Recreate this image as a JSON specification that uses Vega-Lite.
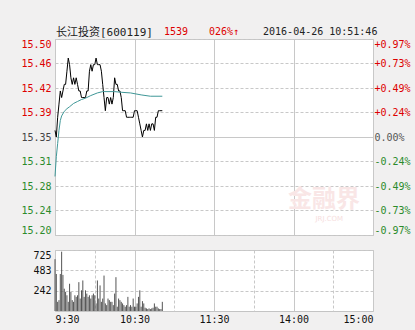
{
  "$schema": "https://vega.github.io/schema/vega-lite/v6.json",
  "background": "#f1f0f0",
  "padding": {"left": 20, "top": 26, "right": 6, "bottom": 6},
  "spacing": 13,
  "config": {
    "view": {"fill": "white", "stroke": "#c4c4c4"},
    "axis": {"labelFont": "DejaVu Sans Mono", "labelFontSize": 10, "ticks": false, "domain": false, "title": null, "gridColor": "#c8c8c8", "gridWidth": 1, "labelOverlap": false, "labelBound": false}
  },
  "datasets": {
    "price": [
      {"m":0,"p":15.36},{"m":1,"p":15.35},{"m":2,"p":15.38},{"m":3,"p":15.40},{"m":4,"p":15.42},{"m":5,"p":15.41},{"m":6,"p":15.42},{"m":7,"p":15.43},{"m":8,"p":15.43},{"m":9,"p":15.45},
      {"m":10,"p":15.47},{"m":11,"p":15.46},{"m":12,"p":15.44},{"m":13,"p":15.43},{"m":14,"p":15.44},{"m":15,"p":15.43},{"m":16,"p":15.44},{"m":17,"p":15.43},{"m":18,"p":15.42},{"m":19,"p":15.42},
      {"m":20,"p":15.41},{"m":21,"p":15.41},{"m":22,"p":15.41},{"m":23,"p":15.41},{"m":24,"p":15.42},{"m":25,"p":15.42},{"m":26,"p":15.45},{"m":27,"p":15.46},{"m":28,"p":15.45},{"m":29,"p":15.46},
      {"m":30,"p":15.46},{"m":31,"p":15.47},{"m":32,"p":15.46},{"m":33,"p":15.46},{"m":34,"p":15.46},{"m":35,"p":15.45},{"m":36,"p":15.43},{"m":37,"p":15.41},{"m":38,"p":15.39},{"m":39,"p":15.41},
      {"m":40,"p":15.41},{"m":41,"p":15.40},{"m":42,"p":15.41},{"m":43,"p":15.40},{"m":44,"p":15.41},{"m":45,"p":15.44},{"m":46,"p":15.43},{"m":47,"p":15.43},{"m":48,"p":15.42},{"m":49,"p":15.42},
      {"m":50,"p":15.41},{"m":51,"p":15.39},{"m":52,"p":15.39},{"m":53,"p":15.39},{"m":54,"p":15.38},{"m":55,"p":15.38},{"m":56,"p":15.38},{"m":57,"p":15.38},{"m":58,"p":15.38},{"m":59,"p":15.38},
      {"m":60,"p":15.39},{"m":61,"p":15.39},{"m":62,"p":15.39},{"m":63,"p":15.38},{"m":64,"p":15.37},{"m":65,"p":15.36},{"m":66,"p":15.35},{"m":67,"p":15.36},{"m":68,"p":15.36},{"m":69,"p":15.37},
      {"m":70,"p":15.36},{"m":71,"p":15.37},{"m":72,"p":15.36},{"m":73,"p":15.37},{"m":74,"p":15.37},{"m":75,"p":15.36},{"m":76,"p":15.38},{"m":77,"p":15.38},{"m":78,"p":15.39},{"m":79,"p":15.39},
      {"m":80,"p":15.39},{"m":81,"p":15.39}
    ],
    "avg": [
      {"m":0,"a":15.29},{"m":1,"a":15.32},{"m":2,"a":15.34},{"m":3,"a":15.36},{"m":4,"a":15.375},{"m":5,"a":15.382},{"m":7,"a":15.389},{"m":9,"a":15.393},{"m":11,"a":15.396},{"m":14,"a":15.401},
      {"m":17,"a":15.404},{"m":20,"a":15.407},{"m":23,"a":15.409},{"m":27,"a":15.413},{"m":32,"a":15.417},{"m":36,"a":15.419},{"m":40,"a":15.419},{"m":45,"a":15.419},{"m":50,"a":15.418},{"m":57,"a":15.417},
      {"m":65,"a":15.414},{"m":72,"a":15.412},{"m":81,"a":15.412}
    ],
    "vol": [
      {"m":0,"v":616},{"m":1,"v":440},{"m":2,"v":109},{"m":3,"v":129},{"m":4,"v":440},{"m":5,"v":705},{"m":6,"v":429},{"m":7,"v":265},{"m":8,"v":226},{"m":9,"v":187},
      {"m":10,"v":109},{"m":11,"v":324},{"m":12,"v":226},{"m":13,"v":129},{"m":14,"v":109},{"m":15,"v":187},{"m":16,"v":168},{"m":17,"v":187},{"m":18,"v":343},{"m":19,"v":148},
      {"m":20,"v":246},{"m":21,"v":363},{"m":22,"v":168},{"m":23,"v":246},{"m":24,"v":207},{"m":25,"v":168},{"m":26,"v":187},{"m":27,"v":148},{"m":28,"v":187},{"m":29,"v":207},
      {"m":30,"v":187},{"m":31,"v":90},{"m":32,"v":363},{"m":33,"v":148},{"m":34,"v":304},{"m":35,"v":109},{"m":36,"v":148},{"m":37,"v":421},{"m":38,"v":90},{"m":39,"v":70},
      {"m":40,"v":148},{"m":41,"v":129},{"m":42,"v":109},{"m":43,"v":109},{"m":44,"v":70},{"m":45,"v":207},{"m":46,"v":402},{"m":47,"v":51},{"m":48,"v":148},{"m":49,"v":129},
      {"m":50,"v":109},{"m":51,"v":90},{"m":52,"v":70},{"m":53,"v":51},{"m":54,"v":70},{"m":55,"v":168},{"m":56,"v":51},{"m":57,"v":70},{"m":58,"v":51},{"m":59,"v":148},
      {"m":60,"v":51},{"m":61,"v":51},{"m":62,"v":90},{"m":63,"v":168},{"m":64,"v":246},{"m":65,"v":51},{"m":66,"v":117},{"m":67,"v":90},{"m":68,"v":39},{"m":69,"v":31},
      {"m":70,"v":23},{"m":71,"v":31},{"m":72,"v":23},{"m":73,"v":31},{"m":74,"v":39},{"m":75,"v":90},{"m":76,"v":51},{"m":77,"v":51},{"m":78,"v":31},{"m":79,"v":23},
      {"m":80,"v":23},{"m":81,"v":109}
    ]
  },
  "vconcat": [
    {
      "width": 318,
      "height": 196,
      "resolve": {"scale": {"y": "independent"}},
      "layer": [
        {
          "data": {"values": [{}]},
          "mark": {"type": "text", "align": "center", "baseline": "middle", "font": "Noto Sans CJK SC", "fontSize": 24, "fontWeight": "bold", "color": "#f9e6e6"},
          "encoding": {"x": {"datum": 203, "type": "quantitative"}, "y": {"datum": 15.254, "type": "quantitative", "scale": {"domain": [15.201, 15.499], "nice": false, "zero": false}, "axis": null}, "text": {"value": "金融界"}}
        },
        {
          "data": {"values": [{}]},
          "mark": {"type": "text", "align": "center", "baseline": "middle", "font": "DejaVu Sans", "fontSize": 7, "color": "#f6dede"},
          "encoding": {"x": {"datum": 207, "type": "quantitative"}, "y": {"datum": 15.226, "type": "quantitative", "scale": {"domain": [15.201, 15.499], "nice": false, "zero": false}, "axis": null}, "text": {"value": "JRJ.COM"}}
        },
        {
          "data": {"name": "price"},
          "mark": {"type": "line", "color": "#000000", "strokeWidth": 1},
          "encoding": {
            "x": {"field": "m", "type": "quantitative", "scale": {"domain": [0, 240], "nice": false, "zero": false},
              "axis": {"values": [0,30,60,90,120,150,180,210,240], "labels": false, "grid": true,
                "gridDash": {"condition": {"test": "datum.value % 60 == 30", "value": [3, 2]}, "value": []}}},
            "y": {"field": "p", "type": "quantitative", "scale": {"domain": [15.201, 15.499], "nice": false, "zero": false},
              "axis": {"orient": "left", "values": [15.201,15.2383,15.2755,15.3128,15.35,15.3873,15.4245,15.4618,15.499],
                "labelExpr": "format(datum.value, '.2f')", "labelPadding": 4, "labelFlush": true, "labelOverlap": false, "grid": true,
                "gridDash": {"condition": {"test": "abs(datum.value - 15.35) < 0.001", "value": []}, "value": [3, 2]},
                "labelColor": {"condition": [{"test": "datum.value > 15.351", "value": "#dd0000"}, {"test": "datum.value < 15.349", "value": "#2b8b2b"}], "value": "#444444"}}}
          }
        },
        {
          "data": {"name": "avg"},
          "mark": {"type": "line", "color": "#3f9797", "strokeWidth": 1},
          "encoding": {
            "x": {"field": "m", "type": "quantitative"},
            "y": {"field": "a", "type": "quantitative", "scale": {"domain": [15.201, 15.499], "nice": false, "zero": false},
              "axis": {"orient": "right", "values": [15.201,15.2383,15.2755,15.3128,15.35,15.3873,15.4245,15.4618,15.499],
                "labelExpr": "(datum.value > 15.351 ? '+' : datum.value < 15.349 ? '-' : '') + format(abs(datum.value - 15.35) / 15.35 * 100, '.2f') + '%'",
                "labelPadding": 1, "labelFlush": true, "labelOverlap": false, "grid": false,
                "labelColor": {"condition": [{"test": "datum.value > 15.351", "value": "#dd0000"}, {"test": "datum.value < 15.349", "value": "#2b8b2b"}], "value": "#555555"}}}
          }
        },
        {
          "data": {"values": [{}]},
          "mark": {"type": "text", "align": "left", "baseline": "top", "font": "DejaVu Sans Mono, Noto Sans CJK SC", "fontSize": 11, "color": "#222222"},
          "encoding": {"x": {"datum": 0.75, "type": "quantitative"}, "y": {"datum": 15.5172, "type": "quantitative", "scale": {"domain": [15.201, 15.499], "nice": false, "zero": false}, "axis": null}, "text": {"value": "长江投资[600119]"}}
        },
        {
          "data": {"values": [{}]},
          "mark": {"type": "text", "align": "left", "baseline": "top", "font": "DejaVu Sans Mono", "fontSize": 10, "color": "#dd0000"},
          "encoding": {"x": {"datum": 82.3, "type": "quantitative"}, "y": {"datum": 15.5172, "type": "quantitative", "scale": {"domain": [15.201, 15.499], "nice": false, "zero": false}, "axis": null}, "text": {"value": "1539"}}
        },
        {
          "data": {"values": [{}]},
          "mark": {"type": "text", "align": "left", "baseline": "top", "font": "DejaVu Sans Mono", "fontSize": 10, "color": "#dd0000"},
          "encoding": {"x": {"datum": 116.2, "type": "quantitative"}, "y": {"datum": 15.5172, "type": "quantitative", "scale": {"domain": [15.201, 15.499], "nice": false, "zero": false}, "axis": null}, "text": {"value": "026%↑"}}
        },
        {
          "data": {"values": [{}]},
          "mark": {"type": "text", "align": "left", "baseline": "top", "font": "DejaVu Sans Mono", "fontSize": 10, "color": "#222222"},
          "encoding": {"x": {"datum": 157, "type": "quantitative"}, "y": {"datum": 15.5172, "type": "quantitative", "scale": {"domain": [15.201, 15.499], "nice": false, "zero": false}, "axis": null}, "text": {"value": "2016-04-26 10:51:46"}}
        }
      ]
    },
    {
      "width": 318,
      "height": 61,
      "data": {"name": "vol"},
      "mark": {"type": "rule", "color": "#555555", "strokeWidth": 1},
      "encoding": {
        "x": {"field": "m", "type": "quantitative", "scale": {"domain": [0, 240], "nice": false, "zero": false},
          "axis": {"values": [0,30,60,90,120,150,180,210,240], "grid": true, "labelPadding": 3, "labelColor": "#111111", "labelOverlap": false,
            "labelExpr": "datum.value == 0 ? '9:30' : datum.value == 60 ? '10:30' : datum.value == 120 ? '11:30' : datum.value == 180 ? '14:00' : datum.value == 240 ? '15:00' : ''",
            "gridDash": {"condition": {"test": "datum.value % 60 == 30", "value": [3, 2]}, "value": []}}},
        "y": {"field": "v", "type": "quantitative", "scale": {"domain": [0, 725], "nice": false},
          "axis": {"values": [242, 483, 725], "labelPadding": 4, "labelFlush": true, "labelOverlap": false, "labelColor": "#111111", "grid": true, "gridDash": [3, 2]}},
        "y2": {"datum": 0}
      }
    }
  ],
  "resolve": {"scale": {"x": "independent", "y": "independent"}}
}
